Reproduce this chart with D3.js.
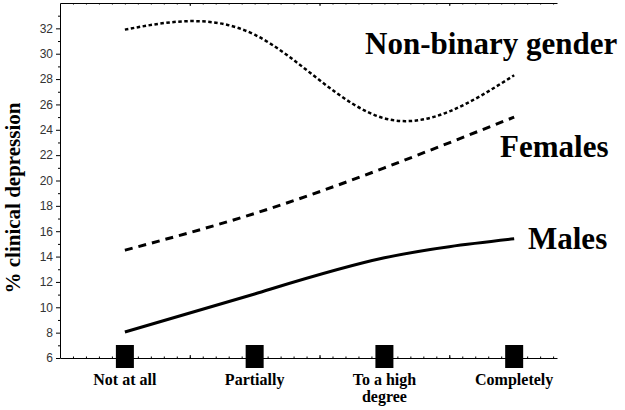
<!DOCTYPE html>
<html>
<head>
<meta charset="utf-8">
<script src="https://cdn.jsdelivr.net/npm/d3@7"></script>
<style>
  body { margin: 0; background: #fff; }
  svg { display: block; }
  .serif { font-family: "Liberation Serif", "Times New Roman", Times, "DejaVu Serif", serif; font-weight: bold; }
</style>
</head>
<body>
<div id="viz"></div>
<script>
// categories on the x axis (second line after "|")
var categories = ["Not at all", "Partially", "To a high|degree", "Completely"];

// % clinical depression
var males     = [8.05, 11.05, 13.9, 15.4];
var females   = [14.5, 17.4, 21.0, 25.0];
var nonBinary = [31.9, 31.5, 24.9, 28.3];

var yTicks = [6, 8, 10, 12, 14, 16, 18, 20, 22, 24, 26, 28, 30, 32];

var margin = {top: 3, right: 68, bottom: 52, left: 60},
  width = 625 - margin.left - margin.right,
  height = 410 - margin.top - margin.bottom;

var svg = d3.select("#viz")
  .append("svg")
  .attr("width", 625)
  .attr("height", 410)
  .append("g")
  .attr("transform", "translate(" + margin.left + "," + margin.top + ")");

// x: category index 1..4
var x = d3.scaleLinear()
  .domain([0.5, 4.33])
  .range([0, width]);

var y = d3.scaleLinear()
  .domain([6, 34])
  .range([height, 0]);

// y axis, major + minor ticks
var yAxis = svg.append("g")
  .call(d3.axisLeft(y).tickValues(yTicks).tickSize(4).tickSizeOuter(0).tickPadding(3));
yAxis.selectAll("text")
  .style("font-family", "Arial, 'Liberation Sans', sans-serif")
  .style("font-size", "12px")
  .attr("fill", "#333");
svg.append("g")
  .call(d3.axisLeft(y).tickValues(d3.range(7, 34, 2)).tickSize(2).tickSizeOuter(0).tickFormat(""))
  .select(".domain").remove();

// bottom and top lines with small inner ticks
var minorX = d3.range(6, 44).map(d => d / 10);
svg.append("g")
  .attr("transform", "translate(0," + height + ")")
  .call(d3.axisBottom(x).tickValues(minorX).tickSize(-1.5).tickSizeOuter(0).tickFormat(""));
svg.append("g")
  .attr("transform", "translate(0," + height + ")")
  .call(d3.axisBottom(x).tickValues([1.5, 2.5, 3.5]).tickSize(-3).tickSizeOuter(0).tickFormat(""))
  .select(".domain").remove();
svg.append("g")
  .call(d3.axisTop(x).tickValues(minorX).tickSize(-1.5).tickSizeOuter(0).tickFormat(""));
svg.append("g")
  .call(d3.axisTop(x).tickValues([1.5, 2.5, 3.5]).tickSize(-3).tickSizeOuter(0).tickFormat(""))
  .select(".domain").remove();

// black square markers on the x axis
svg.selectAll(".mark")
  .data(categories)
  .enter().append("rect")
  .attr("class", "mark")
  .attr("x", (d, i) => x(i + 1) - 9)
  .attr("y", height - 13)
  .attr("width", 18)
  .attr("height", 23)
  .attr("fill", "#000");

// category labels
var catText = svg.selectAll(".cat")
  .data(categories)
  .enter().append("text")
  .attr("class", "cat serif")
  .attr("x", (d, i) => x(i + 1))
  .attr("y", height + 27)
  .attr("text-anchor", "middle")
  .style("font-size", "16px");
catText.each(function (d) {
  var parts = d.split("|");
  var t = d3.select(this);
  parts.forEach((p, j) => {
    t.append("tspan")
      .attr("x", t.attr("x"))
      .attr("dy", j === 0 ? 0 : 17)
      .text(p);
  });
});

// y axis title
svg.append("text")
  .attr("class", "serif")
  .attr("transform", "translate(" + (20 - margin.left) + "," + (198 - margin.top) + ") rotate(-90)")
  .attr("text-anchor", "middle")
  .style("font-size", "21px")
  .text("% clinical depression");

// lines
var line = d3.line()
  .x((d, i) => x(i + 1))
  .y(d => y(d))
  .curve(d3.curveNatural);

var series = [
  {name: "Males", values: males, dash: null, w: 3, lx: 528, ly: 249},
  {name: "Females", values: females, dash: "8,6", w: 3, lx: 500, ly: 157},
  {name: "Non-binary gender", values: nonBinary, dash: "3.5,2.5", w: 2.5, lx: 365, ly: 54}
];

series.forEach(s => {
  svg.append("path")
    .datum(s.values)
    .attr("d", line)
    .attr("fill", "none")
    .attr("stroke", "#000")
    .attr("stroke-width", s.w)
    .attr("stroke-dasharray", s.dash);

  svg.append("text")
    .attr("class", "serif")
    .attr("x", s.lx - margin.left)
    .attr("y", s.ly - margin.top)
    .style("font-size", "31px")
    .text(s.name);
});
</script>
</body>
</html>
